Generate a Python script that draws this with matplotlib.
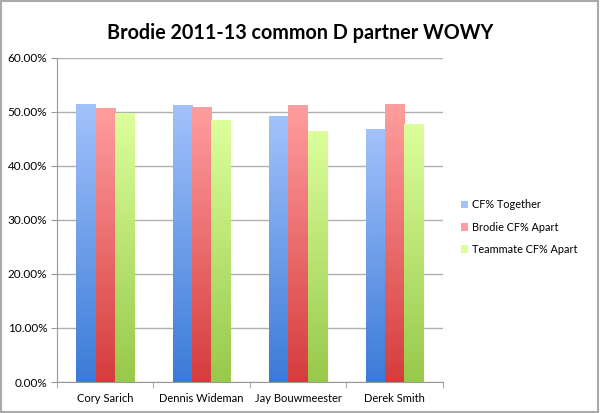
import numpy as np
import matplotlib.pyplot as plt
from matplotlib.patches import Rectangle
from matplotlib.colors import LinearSegmentedColormap
from matplotlib.ticker import FuncFormatter

players = ['Cory Sarich', 'Dennis Wideman', 'Jay Bouwmeester', 'Derek Smith']
together = [51.4, 51.3, 49.2, 46.8]
brodie_apart = [50.8, 50.9, 51.2, 51.4]
mate_apart = [49.7, 48.4, 46.5, 47.7]

series = ['CF% Together', 'Brodie CF% Apart', 'Teammate CF% Apart']
# (top colour, bottom colour) for the gradient fill
shades = [('#a3c2fb', '#3a7bd8'), ('#ff9e9e', '#d63c3c'), ('#dcff9c', '#97c94a')]

plt.rcParams['font.family'] = ['Lato', 'DejaVu Sans']

fig = plt.figure(figsize=(6, 4.13), dpi=100)
ax = fig.add_axes([0.095, 0.075, 0.643, 0.785])

x = np.arange(len(players))
w = 0.2
grad = np.linspace(0, 1, 256).reshape(-1, 1)
for i, (vals, (top, bot)) in enumerate(zip([together, brodie_apart, mate_apart], shades)):
    bars = ax.bar(x + (i - 1) * w, vals, w, color=top, label=series[i], zorder=2)
    cmap = LinearSegmentedColormap.from_list('g%d' % i, [bot, top])
    for b in bars:
        bx = b.get_x()
        bw, bh = b.get_width(), b.get_height()
        im = ax.imshow(grad, cmap=cmap, extent=[bx, bx + bw, 0, bh],
                       aspect='auto', origin='lower', zorder=3, interpolation='bilinear')
        im.set_clip_path(b)

ax.set_xlim(-0.5, len(players) - 0.5)
ax.set_ylim(0, 60)
ax.set_yticks(np.arange(0, 61, 10))
ax.yaxis.set_major_formatter(FuncFormatter(lambda v, p: '%.2f%%' % v))
ax.set_xticks(x)
ax.set_xticklabels(players)
ax.set_xticks(np.arange(-0.5, len(players), 1), minor=True)
ax.tick_params(axis='x', which='major', length=0, pad=8, labelsize=8)
ax.tick_params(axis='x', which='minor', length=4, color='#999999')
ax.tick_params(axis='y', length=4, color='#999999', labelsize=8.5, pad=3)
ax.grid(axis='y', color='#b0b0b0', linewidth=1, zorder=0)
ax.set_axisbelow(True)
for s in ['top', 'right']:
    ax.spines[s].set_visible(False)
for s in ['left', 'bottom']:
    ax.spines[s].set_color('#999999')

fig.text(0.5, 0.92, 'Brodie 2011-13 common D partner WOWY', ha='center', va='center',
         fontsize=14.2, fontweight='bold')

handles, labels = ax.get_legend_handles_labels()
leg = fig.legend(handles, labels, loc='center left', bbox_to_anchor=(0.768, 0.45),
                 frameon=False, fontsize=7.8, handlelength=0.7, handleheight=0.7,
                 handletextpad=0.3, labelspacing=1.05, borderpad=0, borderaxespad=0)

fig.patches.append(Rectangle((0.002, 0.003), 0.995, 0.994, transform=fig.transFigure,
                             fill=False, edgecolor='#aaaaaa', linewidth=1.5))

fig.savefig('out.png', dpi=100)
